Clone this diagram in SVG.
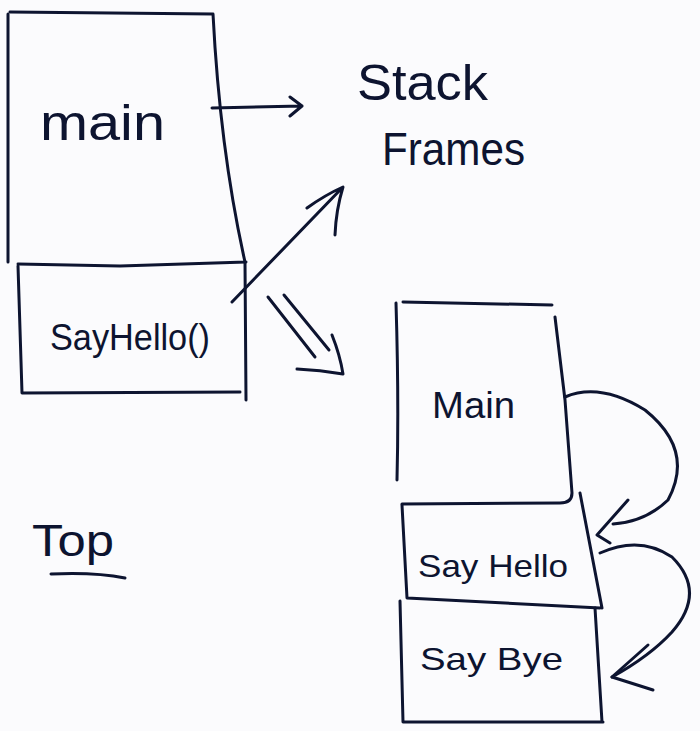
<svg xmlns="http://www.w3.org/2000/svg" width="700" height="731" viewBox="0 0 700 731">
<style>
.ink{fill:none;stroke:#0d1430;stroke-width:3;stroke-linecap:round;stroke-linejoin:round}
.t{font-family:"Liberation Sans","DejaVu Sans",sans-serif;fill:#0d1430}
</style>
<rect width="700" height="731" fill="#fbfbfd"/>
<g id="left-stack">
  <g id="left-main">
    <path class="ink" d="M10,12 L213,14 M8,14 L8,262 M213,14 Q220,150 245,262 M18,264 L120,266 L246,262"/>
    <text class="t" x="40" y="140" font-size="50" textLength="125" lengthAdjust="spacingAndGlyphs">main</text>
  </g>
  <g id="left-sayhello">
    <path class="ink" d="M18,266 L22,393 L240,392 M245,262 L246,400"/>
    <text class="t" x="50" y="350" font-size="36" textLength="160" lengthAdjust="spacingAndGlyphs">SayHello()</text>
  </g>
</g>
<g id="stack-frames">
  <text class="t" x="357" y="100" font-size="50" textLength="131" lengthAdjust="spacingAndGlyphs">Stack</text>
  <text class="t" x="382" y="165" font-size="46" textLength="143" lengthAdjust="spacingAndGlyphs">Frames</text>
</g>
<g id="top-label">
  <text class="t" x="32" y="556" font-size="44" textLength="82" lengthAdjust="spacingAndGlyphs">Top</text>
  <path class="ink" d="M51,574 Q95,572 125,578"/>
</g>
<g id="right-stack">
  <g id="right-main">
    <path class="ink" d="M403,302 L552,305 M396,303 Q399,400 397,480 M555,317 L565,400 L572,493 Q572,503 560,503 L402,504"/>
    <text class="t" x="432" y="418" font-size="36" textLength="83" lengthAdjust="spacingAndGlyphs">Main</text>
  </g>
  <g id="right-sayhello">
    <path class="ink" d="M402,505 L407,598 L600,608 M580,493 L602,608"/>
    <text class="t" x="418" y="577" font-size="32" textLength="150" lengthAdjust="spacingAndGlyphs">Say Hello</text>
  </g>
  <g id="right-saybye">
    <path class="ink" d="M400,601 L403,722 L603,722 M595,608 L602,722"/>
    <text class="t" x="420" y="670" font-size="32" textLength="143" lengthAdjust="spacingAndGlyphs">Say Bye</text>
  </g>
</g>
<g id="connectors">
  <path class="ink" d="M212,108 L302,106 M290,97 L302,106 L290,116"/>
  <path class="ink" d="M232,302 L342,188 M307,208 Q325,195 343,187 Q336,210 335,235"/>
  <path class="ink" d="M268,297 L315,357 M284,295 L329,350"/>
  <path class="ink" d="M332,335 Q340,355 343,374 Q320,370 297,369"/>
  <path class="ink" d="M565,397 Q600,382 645,410 Q695,450 668,500 Q645,522 613,524"/>
  <path class="ink" d="M628,500 L597,535 L610,543"/>
  <path class="ink" d="M600,553 Q640,535 672,557 Q707,592 672,632 Q650,656 612,677"/>
  <path class="ink" d="M648,645 L612,677 L653,690"/>
</g>
</svg>
